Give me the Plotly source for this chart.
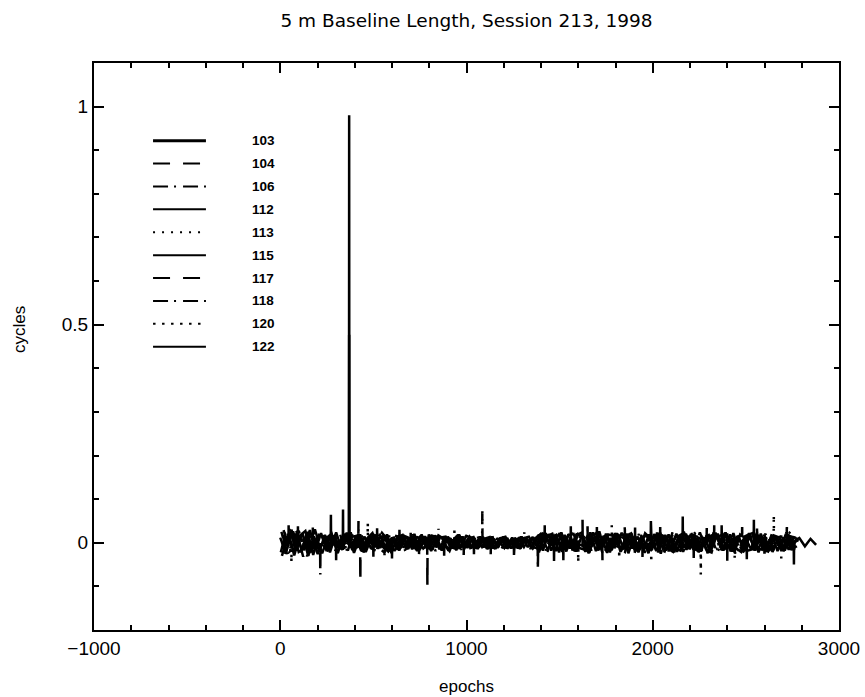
import numpy as np
import plotly.graph_objects as go

# ---- data (values in thousandths of a cycle) ----
names = ["103", "104", "106", "112", "113", "115", "117", "118", "120", "122"]
first_epoch = [0, 3, 6, 9, 12, 15, 18, 21, 24, 27]
epoch_step = 30

s103 = [12, -25, 30, -18, 22, -30, 15,
        -20, 18, -12, 24, -15, 10, -8, 20, -22, 14, -10, 16, -18, 12,
        -16, 18, -11, 20, -15, 13, -19, 9, -17, 14, -12, 19, -10,
        12, -13, 9, -14, 11, -10, 14, -8, 12, -13, 10, -12,
        15, -18, 20, -14, 22, -16, 12, -20, 18, -12, 24, -15, 10, -22, 16, -19, 21, -13, 14, -17,
        19, -11, 23, -18, 13, -21, 17, -14, 20, -16, 11, -23, 18, -12, 22, -15, 16, -20, 14, -18,
        21, -13, 17, -19, 12, -16, 15]
s104 = [-22, 28, -10, 18, -32, 20, -14,
        16, -14, 22, -9, 12, -18, 25, -11, 14, -20, 9, -13, 19, -16,
        14, -17, 12, -20, 16, -11, 18, -15, 9, -18, 13, -14, 17,
        -11, 13, -9, 12, -14, 8, -12, 11, -10, 14, -9, 13,
        -17, 21, -12, 16, -24, 13, -19, 22, -10, 18, -15, 26, -20, 11, -17, 23, -14, 19, -22, 12,
        -16, 20, -25, 15, -11, 18, -21, 13, -18, 24, -12, 17, -20, 10, -15, 22, -17, 14, -23, 19,
        -13, 16, -21, 11, -19, 14, -12]
s106 = [25, -15, -28, 20, 8, -24, 31,
        -13, 9, 21, -17, -6, 15, -23, 11, 18, -12, -19, 23, 7, -15,
        17, -9, -18, 13, 10, -16, 19, -12, -8, 15, -14, 11, 16,
        -13, 9, 12, -14, 7, -11, 13, -9, -12, 10, 8, -13,
        19, -13, -21, 17, 9, -20, 23, -16, 12, -24, 18, 14, -19, -11, 22, -17, 15, -12, 20, -23,
        10, 17, -14, -20, 24, -13, 11, -18, 16, 21, -15, -22, 13, 19, -17, 12, -24, 15, 20, -11,
        -16, 18, -14, 22, -19, 13, -10]
s112 = [-30, 14, 26, -21, -12, 29, -17,
        22, -19, 13, -24, 17, 8, -14, 19, -21, 11, 16, -9, -20, 14,
        -18, 15, 10, -16, 19, -12, -14, 17, 9, -19, 13, -11, 16,
        11, -14, 13, -9, -12, 10, 14, -13, 8, 12, -10, 13,
        -22, 16, 12, -19, 24, -14, -18, 20, 11, -23, 15, -12, 21, -17, 13, 19, -24, 14, -16, 22,
        10, -19, 18, -13, -21, 16, 23, -15, 12, -20, 17, -11, 21, -18, 14, -22, 19, 10, -16, 23,
        -14, -20, 17, 12, -18, 15, 11]
s113 = [18, -27, 11, 24, -19, -8, 22,
        -16, 23, -10, 14, -22, 18, -7, 12, -17, 20, -13, 9, -21, 17,
        13, -19, 16, -12, 11, -17, 14, -10, 18, -15, 10, -16, 12,
        -10, 13, -12, 9, 14, -11, 8, -13, 12, -9, 11, -14,
        18, -21, 14, -16, 20, 25, -12, -19, 17, -22, 13, 11, -18, 21, -15, 19, -11, -24, 16, 13,
        -20, 22, -17, 12, 18, -14, -21, 15, 24, -13, 17, -19, -12, 20, 14, -23, 16, -15, 21, -10,
        19, -18, 13, -21, 15, 26, -14]
s115 = [-14, 21, -29, 16, 27, -22, 10,
        -24, 12, 17, -15, 21, -11, 13, -19, 9, 22, -14, 18, -12, -17,
        16, -13, 11, -19, 14, -10, 17, -15, 12, 9, -17, 14, -12,
        12, -10, 9, 13, -14, 11, -9, 12, -13, 10, 14, -11,
        -15, 22, -18, 13, -21, 17, 20, -12, -16, 24, -19, 14, -23, 12, 18, -15, 21, -20, 11, 16,
        -17, 23, -13, 19, -22, 15, -11, 20, -18, 14, -24, 21, 13, -16, 19, -12, -21, 17, 22, -15,
        11, -19, 16, -13, 20, -17, 12]
s117 = [29, -12, 19, -26, 14, 23, -20,
        13, -21, 16, -8, -18, 24, -13, 10, -16, 21, -11, -22, 15, 12,
        -12, 18, -15, 11, -13, 19, -16, 12, 14, -10, 16, -18, 9,
        13, -11, -9, 12, 10, -14, 11, -12, 9, -10, 13, 8,
        20, -14, 17, -23, 12, 19, -17, 15, -21, 10, 23, -16, 13, -20, 18, -12, 22, -19, 14, -15,
        11, -22, 20, 17, -13, -18, 21, -10, 16, -24, 13, 19, -14, 23, -20, 11, -17, 15, 18, -22,
        12, -13, 20, -16, 24, -11, 14]
s118 = [-19, 32, -13, -24, 18, 12, -26,
        19, -15, 11, 20, -23, 13, 16, -20, 12, -9, 18, -15, 22, -10,
        14, -15, 19, -12, -17, 13, 15, -14, 10, -18, 16, 11, -13,
        -11, 14, 10, -13, 12, -9, -12, 14, -10, 9, -13, 11,
        -19, 15, 21, -16, -13, 22, -20, 17, 14, -18, 12, -24, 19, 16, -11, -21, 23, -14, 18, -12,
        -19, 20, 15, -23, 13, 17, -16, 22, -20, 11, 18, -13, -17, 24, -15, 12, 20, -18, -14, 21,
        16, -22, 13, -19, 17, -12, 15]
s120 = [23, -18, 27, 9, -31, 16, -11,
        -12, 17, -20, 14, 9, -16, 22, -18, 13, -11, 20, -14, 8, 19,
        -17, 13, -14, 18, -12, 15, -19, 10, -13, 17, -9, 14, -15,
        10, -12, 13, -11, 9, 14, -10, -13, 11, 12, -14, 9,
        16, -20, 13, 22, -17, 11, -23, 18, -14, 20, -12, 17, -19, 24, -16, 12, 21, -18, 15, -22,
        19, -13, -20, 14, 23, -17, 10, -21, 18, 13, -15, 22, -19, 16, -11, 20, -23, 14, 17, -16,
        21, -12, -18, 19, 15, -20, 13]
s122 = [-26, 15, 20, -17, 25, -28, 18,
        14, -22, 18, -13, 23, -17, 11, -21, 15, 19, -12, 16, -24, 13,
        18, -14, 12, -17, 15, -11, 16, -18, 12, -13, 19, -15, 14,
        -13, 11, -10, 14, -12, 13, -11, 10, -14, 12, -9, 13,
        21, -16, 14, -22, 18, -13, 17, 23, -20, 12, -18, 16, -14, 22, -21, 13, 19, -17, 11, -24,
        20, -15, 18, -12, 21, -19, 14, 16, -22, 12, -17, 23, -13, 19, -20, 15, -11, 22, -18, 13,
        -21, 17, 12, -16, 20, -14, 11, -8, 9, -5]
series_values = [s103, s104, s106, s112, s113, s115, s117, s118, s120, s122]

# isolated sharp excursions: (epoch, value in thousandths)
events = {
    "103": [(369, 3), (370, 980), (371, -2), (1469, -4), (1470, -42), (1471, 3),
            (2399, 2), (2400, -41), (2401, -3), (94, 2), (95, 38), (96, -3),
            (1254, 3), (1255, -28), (1256, -2), (1904, -2), (1905, 35), (1906, 4),
            (2504, 3), (2505, -38), (2506, -1)],
    "112": [(369, -4), (370, 477), (371, 5), (2542, 4), (2543, 53), (2544, -3),
            (599, 3), (600, -36), (601, -2), (44, -3), (45, 40), (46, 2),
            (879, 2), (880, -30), (881, -4), (1559, -3), (1560, 38), (1561, 3),
            (2219, 4), (2220, -35), (2221, -2)],
    "106": [(214, -10), (215, -73), (216, 8), (1382, 4), (1383, -60), (1384, -3),
            (1849, 3), (1850, 42), (1851, -4), (519, -2), (520, 33), (521, 3),
            (984, 3), (985, -28), (986, -2), (2329, -4), (2330, 40), (2331, 2),
            (2689, 3), (2690, -36), (2691, -3)],
    "115": [(271, 5), (272, 64), (273, -3), (336, 6), (337, 76), (338, -5),
            (1989, 4), (1990, 50), (1991, -2), (639, -2), (640, 30), (641, 3),
            (1519, 2), (1520, -40), (1521, -4), (2039, -3), (2040, 36), (2041, 2)],
    "104": [(429, 5), (430, -90), (431, -4), (1622, 3), (1623, 53), (1624, -2),
            (2599, 2), (2600, -40), (2601, 4), (149, 4), (150, -42), (151, -2),
            (699, -3), (700, 30), (701, 2), (1174, -2), (1175, 25), (1176, 3),
            (2084, 3), (2085, -35), (2086, -4)],
    "117": [(789, -5), (790, -100), (791, 3), (1729, 2), (1730, -40), (1731, -3),
            (174, -3), (175, 40), (176, 4), (1129, 2), (1130, -26), (1131, -3),
            (1649, -2), (1650, 38), (1651, 3), (2289, 3), (2290, 34), (2291, -2)],
    "118": [(1084, 4), (1085, 72), (1086, -6), (419, -3), (420, 50), (421, 4),
            (2719, 3), (2720, 42), (2721, -2), (744, 2), (745, -32), (746, -3),
            (1944, 3), (1945, -38), (1946, -2), (2479, -3), (2480, 36), (2481, 2)],
    "120": [(2257, 3), (2258, -73), (2259, -2), (1599, -2), (1600, -45), (1601, 3),
            (469, 2), (470, 45), (471, -4), (59, 3), (60, -45), (61, -2),
            (934, -2), (935, 28), (936, 3), (1819, 2), (1820, -36), (1821, -3),
            (2559, -3), (2560, 38), (2561, 2)],
    "113": [(2649, 5), (2650, 64), (2651, -4), (849, 3), (850, 32), (851, -3),
            (1991, -3), (1992, -45), (1993, 2), (559, 2), (560, -34), (561, -3),
            (1309, -2), (1310, 24), (1311, 2), (1779, -3), (1780, 40), (1781, 3),
            (2439, 2), (2440, -38), (2441, -2)],
    "122": [(2160, -3), (2161, 60), (2162, 6), (299, 4), (300, -40), (301, -2),
            (1419, 3), (1420, 40), (1421, -3), (2757, 2), (2758, -50), (2759, 3),
            (499, 3), (500, -32), (501, -2), (1039, 2), (1040, -26), (1041, -3),
            (1699, -2), (1700, 36), (1701, 3), (2369, -3), (2370, 40), (2371, 2)],
}

# ---- styles ----
dashes = {"103": "solid", "104": "17px,13px", "106": "15px,6px,2px,7px", "112": "solid",
          "113": "2px,7px", "115": "solid", "117": "17px,13px", "118": "15px,6px,2px,7px",
          "120": "2.5px,6.5px", "122": "solid"}
widths = {n: 2.5 for n in names}

fig = go.Figure()
for name, start, vals in zip(names, first_epoch, series_values):
    xs = list(start + epoch_step * np.arange(len(vals)))
    ys = list(vals)
    for ex, ev in events.get(name, []):
        xs.append(ex)
        ys.append(ev)
    order = np.argsort(xs, kind="stable")
    xs = np.asarray(xs)[order]
    ys = np.asarray(ys, dtype=float)[order] / 1000.0
    fig.add_trace(go.Scatter(x=xs, y=ys, mode="lines", name=name, showlegend=False,
                             line=dict(color="black", width=widths[name], dash=dashes[name])))

# ---- hand-placed key (in data coordinates) ----
key_x0, key_x1, key_text_x = -683, -399, -160
key_y0, key_dy = 0.922, 0.0525
shapes = []
annotations = []
for i, name in enumerate(names):
    yk = key_y0 - key_dy * i
    shapes.append(dict(type="line", xref="x", yref="y", x0=key_x0, x1=key_x1, y0=yk, y1=yk,
                       line=dict(color="black", width=3 if name == "103" else 2,
                                 dash=dashes[name])))
    annotations.append(dict(xref="x", yref="y", x=key_text_x, y=yk, text=name, showarrow=False,
                            xanchor="left", yanchor="middle",
                            font=dict(family="Liberation Sans", size=13.5, color="black",
                                      weight="bold")))

annotations.append(dict(xref="paper", yref="paper", x=-0.1, y=0.53, text="cycles",
                        textangle=-90, showarrow=False, xanchor="center", yanchor="middle",
                        font=dict(family="Liberation Sans", size=17, color="black")))

axis_common = dict(showline=True, linewidth=2, linecolor="black", mirror="ticks",
                   ticks="inside", ticklen=10, tickwidth=1.5, tickcolor="black",
                   showgrid=False, zeroline=False, automargin=False,
                   tickfont=dict(family="Liberation Sans", size=19, color="black"))

fig.update_layout(
    width=865, height=697,
    margin=dict(l=94, r=26, t=63, b=67),
    paper_bgcolor="white", plot_bgcolor="white",
    title=dict(text="5 m Baseline Length, Session 213, 1998", x=0.5, xref="paper",
               xanchor="center", y=1 - 21 / 697, yanchor="middle",
               font=dict(family="DejaVu Sans", size=18.5, color="black")),
    xaxis=dict(range=[-1000, 3000], tick0=0, dtick=1000,
               minor=dict(dtick=200, tick0=0, ticks="inside", ticklen=5, tickwidth=1.5,
                          tickcolor="black", showgrid=False),
               title=dict(text="epochs", standoff=22,
                          font=dict(family="Liberation Sans", size=17, color="black")),
               **axis_common),
    yaxis=dict(range=[-0.2, 1.1], tick0=0, dtick=0.5,
               minor=dict(dtick=0.1, tick0=0, ticks="inside", ticklen=5, tickwidth=1.5,
                          tickcolor="black", showgrid=False),
               **axis_common),
    shapes=shapes,
    annotations=annotations,
)

fig.write_html("out.html", config={"displayModeBar": False},
               post_script="document.body.style.margin='0';document.body.style.padding='0';")
